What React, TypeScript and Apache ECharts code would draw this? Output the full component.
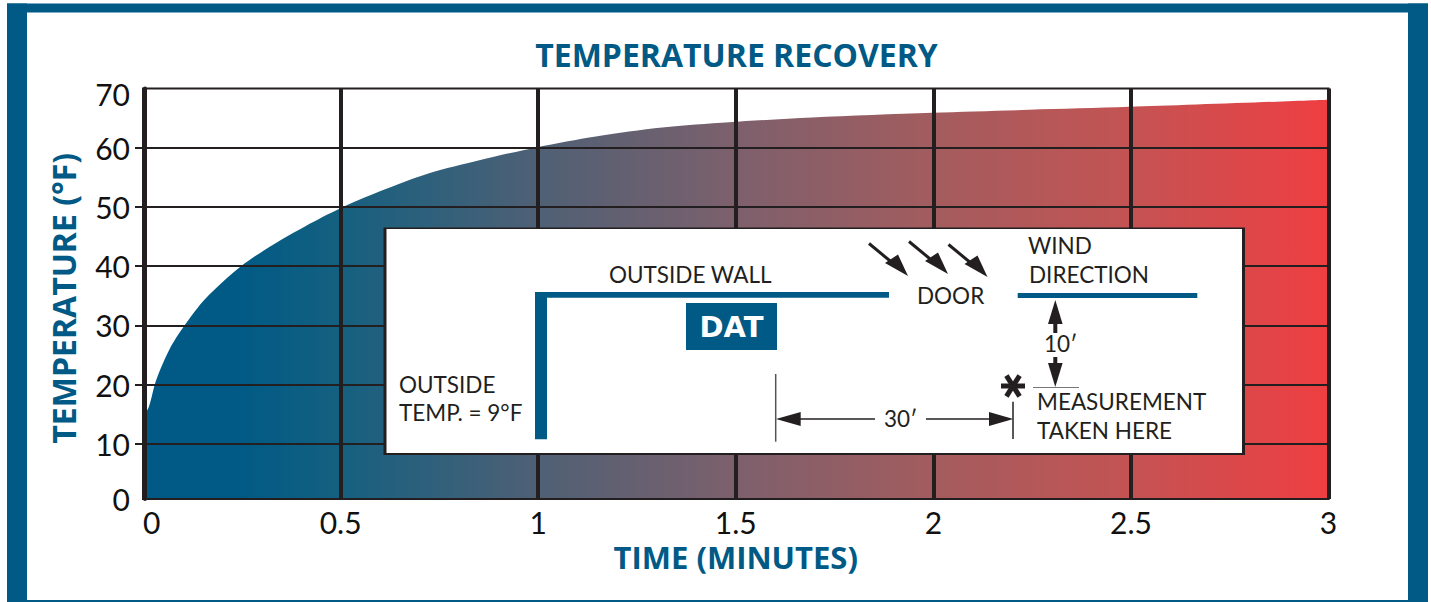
import React, { useEffect, useRef } from "react";
import * as echarts from "echarts";

const title = "TEMPERATURE RECOVERY";
const xName = "TIME (MINUTES)";
const yName = "TEMPERATURE (°F)";
const times = [0, 0.015, 0.033, 0.0665, 0.104, 0.159, 0.248, 0.328, 0.412, 0.497, 0.598, 0.724, 0.851, 0.998, 1.146, 1.314, 1.483, 1.693, 1.997, 2.242, 2.495, 3];
const temps = [14.6, 16.3, 20.7, 25.9, 29.9, 34.6, 40, 43.6, 46.8, 49.7, 52.6, 55.7, 57.9, 60.1, 61.9, 63.4, 64.3, 65.1, 65.9, 66.4, 66.9, 68.1];
const yTicks = [10, 20, 30, 40, 50, 60];
const yLabelPositions = [0.71, 10, 20, 30, 40, 50, 60, 69.1];

const BLUE = "#005A85";
const INK = "#231F20";
const FONT = "Lato";
const HEAD = "Open Sans";

const text = (t: string, x: number, y: number, size = 22.5, extra: any = {}) => ({
  type: "text",
  x,
  y,
  style: { text: t, fontFamily: FONT, fontSize: size, fill: INK, verticalAlign: "middle", ...extra },
});
const rect = (x0: number, y0: number, x1: number, y1: number, fill: string) => ({
  type: "rect",
  shape: { x: x0, y: y0, width: x1 - x0, height: y1 - y0 },
  style: { fill },
});
const line = (x1: number, y1: number, x2: number, y2: number, w = 1.5, stroke = INK) => ({
  type: "line",
  shape: { x1, y1, x2, y2 },
  style: { stroke, lineWidth: w },
});
const tri = (a: number[], b: number[], c: number[]) => ({
  type: "polygon",
  shape: { points: [a, b, c] },
  style: { fill: INK },
});
const windArrow = (dx: number, dy: number) => [
  line(869 + dx, 243.5 + dy, 895 + dx, 265 + dy, 3),
  tri([908 + dx, 276 + dy], [885 + dx, 263 + dy], [898 + dx, 254.5 + dy]),
];
const star = (cx: number, cy: number) => {
  const r = 12;
  const dx = r * 0.55;
  const dy = r * 0.87;
  return [
    line(cx - r, cy, cx + r, cy, 5),
    line(cx - dx, cy - dy, cx + dx, cy + dy, 5),
    line(cx + dx, cy - dy, cx - dx, cy + dy, 5),
  ];
};

const frame = [
  rect(7, 3.5, 1428, 12.5, BLUE),
  rect(7, 3.5, 27, 602, BLUE),
  rect(1408, 3.5, 1428, 602, BLUE),
  rect(7, 600, 1428, 602, BLUE),
];

const inset = [
  rect(383.5, 227.5, 1245, 455, INK),
  rect(386.5, 229, 1242, 453, "#ffffff"),
  rect(535, 292, 889, 297.7, BLUE),
  rect(535, 292, 547, 439.3, BLUE),
  rect(1017.7, 293, 1197.3, 298, BLUE),
  rect(686, 303, 777, 350, BLUE),
  text("DAT", 731.5, 327, 29, { fill: "#ffffff", fontWeight: "bold", align: "center", fontFamily: "DejaVu Sans" }),
  text("OUTSIDE WALL", 609, 274),
  text("OUTSIDE", 399, 384),
  text("TEMP. = 9°F", 399, 412),
  text("DOOR", 917, 295),
  text("WIND", 1028, 245),
  text("DIRECTION", 1029, 274),
  text("10′", 1044, 343),
  text("30′", 884, 418),
  text("MEASUREMENT", 1037, 401),
  text("TAKEN HERE", 1037, 430),
  ...windArrow(0, 0),
  ...windArrow(40, -2),
  ...windArrow(79.5, 1),
  line(1055.3, 322, 1055.3, 333, 4),
  tri([1055.3, 300], [1048, 324], [1062.6, 324]),
  line(1055.3, 357, 1055.3, 365, 4),
  tri([1055.3, 387], [1048, 363], [1062.6, 363]),
  line(1033, 387.5, 1079, 387.5, 1, "#777777"),
  ...star(1013, 386),
  line(775.7, 374, 775.7, 441.7, 1.5, "#555555"),
  line(790, 419, 875, 419, 1.5),
  line(926, 419, 1000, 419, 1.5),
  tri([776, 419], [800.7, 412], [800.7, 426]),
  tri([1013.3, 419], [989, 412], [989, 426]),
  line(1013, 401.7, 1013, 439, 1.5),
].map((el) => ({ ...el, z: 10, silent: true }));

export default function App() {
  const ref = useRef<HTMLDivElement>(null);
  useEffect(() => {
    const chart = echarts.init(ref.current!, undefined, { renderer: "svg" });
    chart.setOption({
      animation: false,
      backgroundColor: "#ffffff",
      title: {
        text: title,
        left: 731.5,
        top: 33,
        textAlign: "center",
        textStyle: { fontFamily: HEAD, fontSize: 32, fontWeight: "bold", color: BLUE },
      },
      grid: { left: 143, right: 102.5, top: 88.5, bottom: 103, show: true, borderColor: INK, borderWidth: 2, backgroundColor: "transparent" },
      xAxis: {
        type: "value",
        min: 0,
        max: 3,
        interval: 0.5,
        z: 3,
        name: xName,
        nameLocation: "middle",
        nameGap: 42,
        nameTextStyle: { fontFamily: HEAD, fontSize: 31, fontWeight: "bold", color: BLUE, lineHeight: 24 },
        axisLine: { show: true, onZero: false, lineStyle: { color: INK, width: 2 } },
        axisTick: { show: false },
        axisLabel: { fontFamily: FONT, fontSize: 30, lineHeight: 26, color: "#111111", margin: 10, alignMinLabel: "left" },
        splitLine: { show: true, showMinLine: false, lineStyle: { color: INK, width: 4 } },
      },
      yAxis: {
        type: "value",
        min: yLabelPositions[0],
        max: 70,
        offset: -2,
        z: 3,
        name: yName,
        nameLocation: "middle",
        nameGap: 66,
        nameTextStyle: { fontFamily: HEAD, fontSize: 32, fontWeight: "bold", color: BLUE, padding: [0, 9, 0, 0] },
        axisLine: { show: true, onZero: false, lineStyle: { color: INK, width: 4 } },
        axisTick: { show: true, length: 10, customValues: yTicks, lineStyle: { color: INK, width: 2 } },
        axisLabel: {
          fontFamily: FONT,
          fontSize: 30,
          color: "#111111",
          margin: 15,
          customValues: yLabelPositions,
          formatter: (v: number) => String(Math.round(v / 10) * 10),
        },
        splitLine: { show: true, lineStyle: { color: INK, width: 2 } },
      },
      series: [
        {
          type: "line",
          z: 1,
          symbol: "none",
          smooth: 0.3,
          data: times.map((t, i) => [t, temps[i]]),
          lineStyle: { width: 0 },
          areaStyle: {
            origin: "start",
            opacity: 1,
            color: new echarts.graphic.LinearGradient(0, 0, 1, 0, [
              { offset: 0, color: "#005A85" },
              { offset: 0.08, color: "#005A85" },
              { offset: 0.167, color: "#156080" },
              { offset: 0.333, color: "#4F6075" },
              { offset: 0.5, color: "#7D606C" },
              { offset: 0.667, color: "#A35C5E" },
              { offset: 0.833, color: "#C45353" },
              { offset: 1, color: "#EF3E42" },
            ]),
          },
        },
      ],
      graphic: [...frame.map((el) => ({ ...el, silent: true })), ...inset],
    });
    return () => chart.dispose();
  }, []);
  return <div ref={ref} style={{ position: "fixed", left: 0, top: 0, width: 1431, height: 602 }} />;
}
